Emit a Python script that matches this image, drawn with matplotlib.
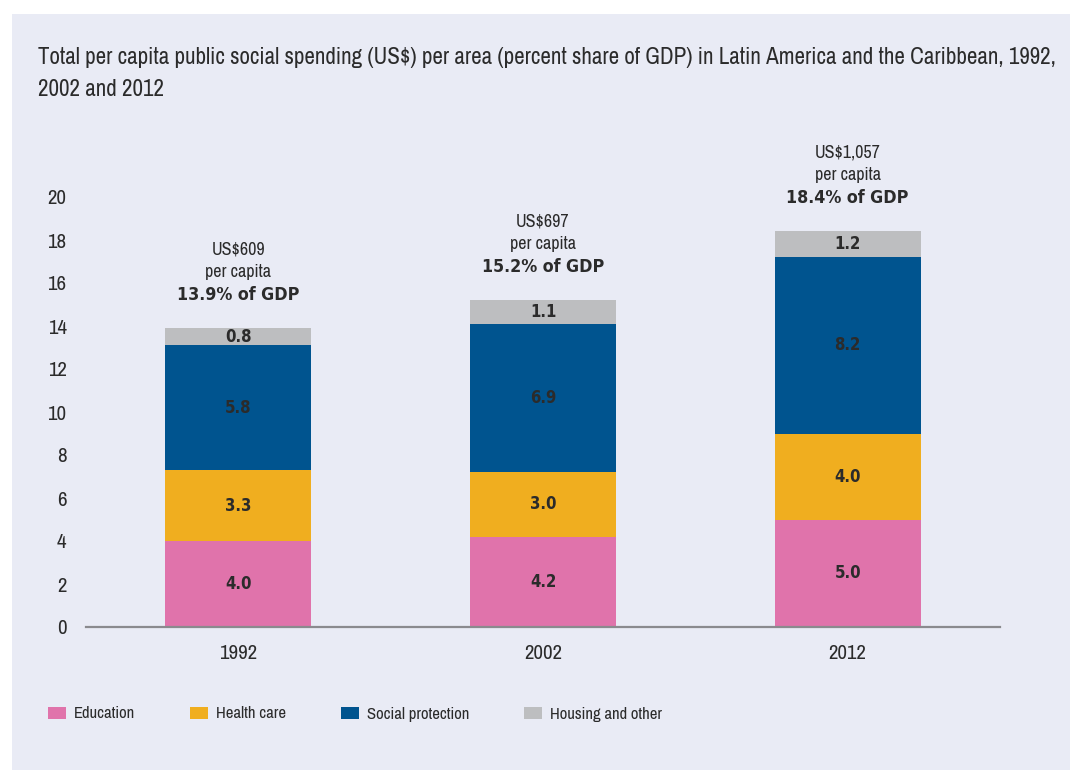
import matplotlib
matplotlib.use("Agg")
import matplotlib.pyplot as plt
from matplotlib import font_manager
from matplotlib.font_manager import FontProperties
from matplotlib.patches import Rectangle, Patch


def font_file(name, fallback):
    for f in font_manager.fontManager.ttflist:
        if f.fname.split("/")[-1] == name:
            return FontProperties(fname=f.fname)
    return FontProperties(family=fallback)


regular = font_file("ArchivoNarrow[wght].ttf", "DejaVu Sans")
bold = font_file("DejaVuSansCondensed-Bold.ttf", "DejaVu Sans")
bold.set_weight("bold")

years = ["1992", "2002", "2012"]
categories = ["Education", "Health care", "Social protection", "Housing and other"]
education = [4.0, 4.2, 5.0]
health = [3.3, 3.0, 4.0]
social = [5.8, 6.9, 8.2]
housing = [0.8, 1.1, 1.2]
per_capita = ["US$609", "US$697", "US$1,057"]
gdp_share = [13.9, 15.2, 18.4]

colors = ["#e073ab", "#f0ae1f", "#00548f", "#bdbec0"]
panel_bg = "#e9ebf5"
text_col = "#2b2b2b"

fig = plt.figure(figsize=(10.7, 7.7), dpi=100)
fig.patch.set_facecolor("white")

# shaded panel behind everything
fig.patches.append(Rectangle((12 / 1070, 0), 1 - 12 / 1070, 1 - 14 / 770,
                             transform=fig.transFigure, facecolor=panel_bg,
                             edgecolor="none", zorder=-10))

fig.text(38 / 1070, 1 - 58 / 770,
         "Total per capita public social spending (US$) per area (percent share of GDP) in Latin America and the Caribbean, 1992,",
         fontproperties=regular, fontsize=16.6, color=text_col, va="center", ha="left")
fig.text(38 / 1070, 1 - 89 / 770, "2002 and 2012",
         fontproperties=regular, fontsize=16.6, color=text_col, va="center", ha="left")

ax = fig.add_axes([86 / 1070, 1 - 627 / 770, (1000 - 86) / 1070, (627 - 197) / 770])
ax.set_facecolor("none")

x = range(len(years))
width = 0.48
series = [education, health, social, housing]
bottom = [0.0] * len(years)
for vals, col, name in zip(series, colors, categories):
    ax.bar(x, vals, width, bottom=bottom, color=col, label=name, zorder=2)
    for xi, v, b in zip(x, vals, bottom):
        ax.text(xi, b + v / 2, f"{v:.1f}", ha="center", va="center",
                fontproperties=bold, fontsize=12, color=text_col, zorder=3)
    bottom = [b + v for b, v in zip(bottom, vals)]

# totals above each bar
for xi, tot, pc, share in zip(x, bottom, per_capita, gdp_share):
    ax.annotate(f"{share:.1f}% of GDP", (xi, tot), xytext=(0, 17.5),
                textcoords="offset points", ha="center", va="bottom",
                fontproperties=bold, fontsize=12.8, color=text_col, annotation_clip=False)
    ax.annotate(f"{pc}\nper capita", (xi, tot), xytext=(0, 34.5),
                textcoords="offset points", ha="center", va="bottom",
                fontproperties=regular, fontsize=13, color=text_col,
                linespacing=1.5, annotation_clip=False)

ax.set_xlim(-0.5, 2.5)
ax.set_ylim(0, 20)
ax.set_yticks(range(0, 21, 2))
ax.set_xticks(list(x))
ax.set_xticklabels(years)
for lab in ax.get_xticklabels() + ax.get_yticklabels():
    lab.set_fontproperties(regular)
    lab.set_fontsize(15)
ax.tick_params(axis="both", length=0, colors=text_col)
ax.tick_params(axis="y", pad=14)
ax.tick_params(axis="x", pad=12)
for side in ["top", "right", "left"]:
    ax.spines[side].set_visible(False)
ax.spines["bottom"].set_color("#8a8a8e")
ax.spines["bottom"].set_linewidth(1.6)

handles = [Patch(facecolor=c, edgecolor="none", label=n) for c, n in zip(colors, categories)]
legend_font = regular.copy()
legend_font.set_size(12)
fig.legend(handles=handles, loc="center left", bbox_to_anchor=(48 / 1070, 1 - 714 / 770),
           ncol=4, frameon=False, prop=legend_font, handlelength=1.1, handleheight=0.72,
           handletextpad=0.45, columnspacing=3.3, borderpad=0, borderaxespad=0,
           labelcolor=text_col)

fig.savefig("out.png", dpi=100, facecolor=fig.get_facecolor())
